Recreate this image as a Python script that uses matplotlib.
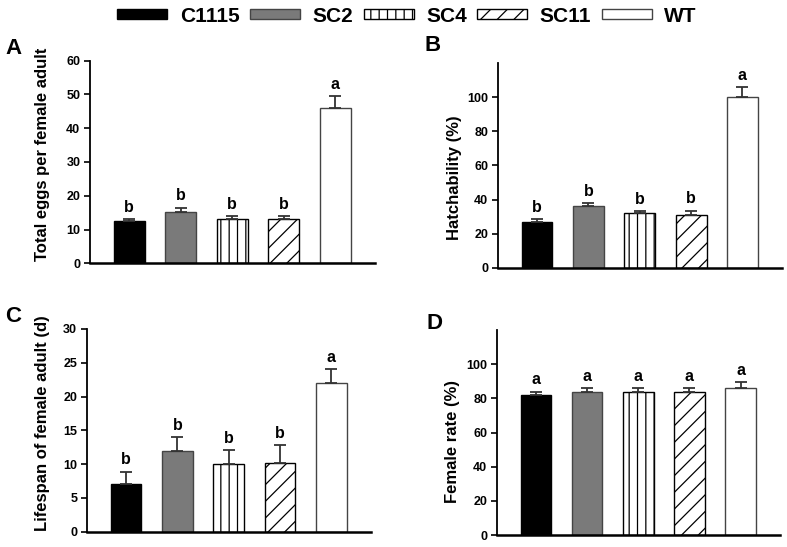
import matplotlib
matplotlib.use("Agg")
import matplotlib.pyplot as plt
from matplotlib.patches import Patch
import numpy as np

plt.rcParams["font.family"] = ["Liberation Sans", "DejaVu Sans"]
plt.rcParams["font.weight"] = "bold"
plt.rcParams["hatch.linewidth"] = 0.9

# 데이터
groups = ["C1115", "SC2", "SC4", "SC11", "WT"]

eggs = [12.5, 15.3, 13.0, 13.0, 46.0]
eggs_err = [0.7, 1.2, 1.0, 1.0, 3.5]
eggs_sig = ["b", "b", "b", "b", "a"]

hatch_rate = [27.0, 36.0, 32.0, 31.0, 100.0]
hatch_err = [1.5, 2.0, 1.0, 2.5, 6.0]
hatch_sig = ["b", "b", "b", "b", "a"]

lifespan = [7.0, 11.9, 10.0, 10.2, 22.0]
lifespan_err = [1.9, 2.1, 2.1, 2.6, 2.1]
lifespan_sig = ["b", "b", "b", "b", "a"]

female = [82.0, 84.0, 84.0, 83.5, 86.0]
female_err = [2.0, 2.0, 2.0, 2.5, 3.5]
female_sig = ["a", "a", "a", "a", "a"]

# 스타일
faces = ["black", "#7a7a7a", "white", "white", "white"]
edges = ["black", "#444444", "black", "black", "#444444"]
hatches = [None, None, "||", "//", None]

fig = plt.figure(figsize=(7.87, 5.47), dpi=100)


def panel(rect, vals, errs, sig, ylim, yticks, ylabel, lab_xy):
    ax = fig.add_axes(rect)
    x = np.arange(len(vals))
    for i in range(len(vals)):
        ax.bar(x[i], vals[i], width=0.6, color=faces[i], edgecolor=edges[i],
               linewidth=1.0, hatch=hatches[i], zorder=2)
    ax.errorbar(x, vals, yerr=[np.zeros(len(vals)), errs], fmt="none",
                ecolor="#333333", elinewidth=1.3, capsize=4, capthick=1.3, zorder=3)
    for i in range(len(vals)):
        ax.annotate(sig[i], (x[i], vals[i] + errs[i]), xytext=(0, 3),
                    textcoords="offset points", ha="center", va="bottom",
                    fontsize=11.5, fontweight="bold")
    ax.set_xlim(-0.76, 4.77)
    ax.set_ylim(*ylim)
    ax.set_yticks(yticks)
    ax.set_xticks([])
    ax.spines["top"].set_visible(False)
    ax.spines["right"].set_visible(False)
    ax.spines["left"].set_linewidth(1.3)
    ax.spines["bottom"].set_linewidth(1.8)
    ax.tick_params(axis="y", direction="out", length=4, width=1.2, labelsize=9, pad=3)
    for t in ax.get_yticklabels():
        t.set_fontweight("bold")
    ax.set_ylabel(ylabel, fontsize=12, fontweight="bold")
    ax.yaxis.set_label_coords(*lab_xy)
    return ax


panel([0.1144, 0.5187, 0.3621, 0.3704], eggs, eggs_err, eggs_sig,
      (0, 60), np.arange(0, 61, 10), "Total eggs per female adult", (-0.14, 0.54))
panel([0.6328, 0.5106, 0.3609, 0.3737], hatch_rate, hatch_err, hatch_sig,
      (0, 120), np.arange(0, 101, 20), "Hatchability (%)", (-0.127, 0.44))
panel([0.1105, 0.0280, 0.3609, 0.3706], lifespan, lifespan_err, lifespan_sig,
      (0, 30), np.arange(0, 31, 5), "Lifespan of female adult (d)", (-0.13, 0.534))
panel([0.6315, 0.0219, 0.3596, 0.3748], female, female_err, female_sig,
      (0, 120), np.arange(0, 101, 20), "Female rate (%)", (-0.131, 0.456))

# 패널 문자
for s, px, py in [("A", 5, 38), ("B", 425, 35), ("C", 5, 306), ("D", 427, 313)]:
    fig.text(px / 787, 1 - py / 547, s, fontsize=16, fontweight="bold",
             ha="left", va="top")

# 범례
handles = [Patch(facecolor=faces[i], edgecolor=edges[i], hatch=hatches[i],
                 linewidth=1.0) for i in range(len(groups))]
fig.legend(handles, groups, loc="center", ncol=5,
           bbox_to_anchor=(407 / 787, 1 - 16 / 547), frameon=False,
           prop={"size": 15, "weight": "bold"}, handlelength=2.4,
           handleheight=0.33, handletextpad=0.6, columnspacing=0.5)

fig.savefig("out.png", dpi=100)
